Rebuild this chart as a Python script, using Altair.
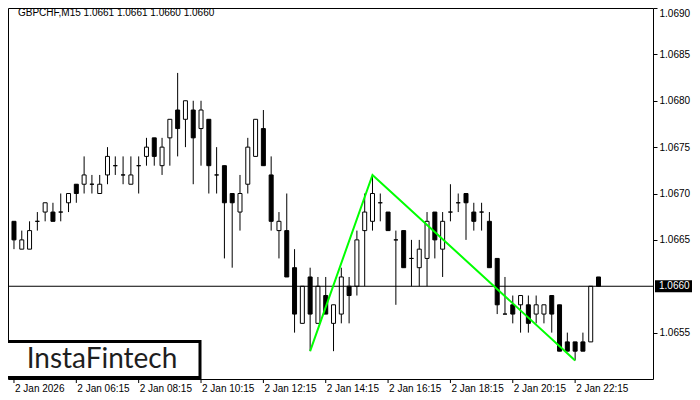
import altair as alt
import pandas as pd

# ---- data (GBPCHF M15, 15-minute bars) ----
opens = [1.0667, 1.0664, 1.0664, 1.0667, 1.0668, 1.0668, 1.0668, 1.0669, 1.0671, 1.0671,
         1.0671, 1.0670, 1.0672, 1.0673, 1.0672, 1.0671, 1.0673, 1.0674, 1.0676, 1.0673,
         1.0676, 1.0679, 1.0678, 1.0679, 1.0677, 1.0678, 1.0672, 1.0673, 1.0670, 1.0668,
         1.0671, 1.0674, 1.0677, 1.0672, 1.0666, 1.0666, 1.0662, 1.0656, 1.0661, 1.0656,
         1.0659, 1.0656, 1.0657, 1.0660, 1.0660, 1.0666, 1.0667, 1.0669, 1.0668, 1.0665,
         1.0666, 1.0663, 1.0662, 1.0663, 1.0668, 1.0664, 1.0668, 1.0669, 1.0670, 1.0668,
         1.0668, 1.0667, 1.0663, 1.0657, 1.0658, 1.0658, 1.0658, 1.0657, 1.0657, 1.0659,
         1.0658, 1.0654, 1.0654, 1.0654, 1.0654, 1.0661]
highs = [1.0667, 1.0666, 1.0667, 1.0668, 1.0669, 1.0669, 1.0670, 1.0670, 1.0671, 1.0674,
         1.0672, 1.0672, 1.0675, 1.0674, 1.0674, 1.0674, 1.0674, 1.0676, 1.0676, 1.0676,
         1.0678, 1.0683, 1.0680, 1.0680, 1.0680, 1.0678, 1.0675, 1.0673, 1.0670, 1.0672,
         1.0676, 1.0678, 1.0679, 1.0674, 1.0668, 1.0670, 1.0664, 1.0660, 1.0662, 1.0661,
         1.0661, 1.0658, 1.0662, 1.0661, 1.0666, 1.0670, 1.0672, 1.0670, 1.0668, 1.0666,
         1.0666, 1.0665, 1.0665, 1.0668, 1.0668, 1.0668, 1.0671, 1.0670, 1.0670, 1.0669,
         1.0669, 1.0668, 1.0663, 1.0661, 1.0659, 1.0659, 1.0659, 1.0659, 1.0658, 1.0659,
         1.0658, 1.0655, 1.0654, 1.0655, 1.0660, 1.0661]
lows = [1.0664, 1.0664, 1.0664, 1.0666, 1.0667, 1.0667, 1.0667, 1.0668, 1.0669, 1.0670,
        1.0670, 1.0670, 1.0671, 1.0672, 1.0671, 1.0671, 1.0670, 1.0673, 1.0673, 1.0672,
        1.0673, 1.0674, 1.0675, 1.0671, 1.0673, 1.0670, 1.0670, 1.0663, 1.0662, 1.0666,
        1.0670, 1.0674, 1.0673, 1.0666, 1.0663, 1.0661, 1.0655, 1.0656, 1.0653, 1.0656,
        1.0657, 1.0653, 1.0656, 1.0656, 1.0659, 1.0660, 1.0666, 1.0667, 1.0666, 1.0658,
        1.0662, 1.0660, 1.0660, 1.0660, 1.0663, 1.0661, 1.0667, 1.0668, 1.0665, 1.0666,
        1.0666, 1.0662, 1.0657, 1.0657, 1.0656, 1.0655, 1.0655, 1.0656, 1.0656, 1.0655,
        1.0653, 1.0653, 1.0652, 1.0653, 1.0654, 1.0660]
closes = [1.0665, 1.0665, 1.0666, 1.0667, 1.0669, 1.0667, 1.0668, 1.0670, 1.0670, 1.0672,
          1.0671, 1.0671, 1.0674, 1.0673, 1.0672, 1.0672, 1.0673, 1.0675, 1.0674, 1.0675,
          1.0678, 1.0677, 1.0680, 1.0676, 1.0679, 1.0673, 1.0672, 1.0669, 1.0669, 1.0670,
          1.0675, 1.0678, 1.0673, 1.0667, 1.0667, 1.0661, 1.0657, 1.0660, 1.0657, 1.0660,
          1.0657, 1.0658, 1.0661, 1.0659, 1.0665, 1.0668, 1.0670, 1.0669, 1.0666, 1.0665,
          1.0662, 1.0663, 1.0664, 1.0667, 1.0665, 1.0667, 1.0668, 1.0669, 1.0669, 1.0667,
          1.0668, 1.0662, 1.0658, 1.0657, 1.0657, 1.0659, 1.0656, 1.0658, 1.0658, 1.0657,
          1.0653, 1.0653, 1.0653, 1.0653, 1.0660, 1.0660]

time_tick_index = [0, 8, 16, 24, 32, 40, 48, 56, 64, 72]
time_tick_labels = ["2 Jan 2026", "2 Jan 06:15", "2 Jan 08:15", "2 Jan 10:15", "2 Jan 12:15",
                    "2 Jan 14:15", "2 Jan 16:15", "2 Jan 18:15", "2 Jan 20:15", "2 Jan 22:15"]
price_ticks = [1.0655, 1.0665, 1.0670, 1.0675, 1.0680, 1.0685, 1.0690]

pattern_index = [38, 46, 72]
pattern_price = [1.0653, 1.0672, 1.0652]

current_price = [1.0660]
title_text = ["GBPCHF,M15  1.0661 1.0661 1.0660 1.0660"]
logo_text = ["InstaFintech"]

# ---- tables ----
candles = pd.DataFrame({
    "idx": list(range(len(opens))),
    "open": opens, "high": highs, "low": lows, "close": closes,
})
candles["fill"] = ["black" if c < o else "white" for o, c in zip(opens, closes)]
ticks_df = pd.DataFrame({"idx": time_tick_index, "label": time_tick_labels})
pattern_df = pd.DataFrame({"idx": pattern_index, "price": pattern_price})
price_df = pd.DataFrame({"price": current_price, "label": ["%.4f" % p for p in current_price]})
title_df = pd.DataFrame({"t": title_text})
logo_df = pd.DataFrame({"t": logo_text})

W, H = 645, 371
FONT = "Liberation Sans"
xs = alt.Scale(domain=[-0.125, 81.35], nice=False, zero=False)
ys = alt.Scale(domain=[1.0650, 1.0690], nice=False, zero=False)
yaxis = alt.Axis(orient="right", values=price_ticks, format=".4f", tickSize=4,
                 tickColor="black", labelColor="black", labelFont=FONT, labelFontSize=10,
                 labelPadding=2, domain=False, grid=False, title="", labelFlush=True,
                 labelOverlap=False)
X = alt.X("idx:Q", scale=xs, axis=None)

base = alt.Chart(candles)

wicks = base.mark_rule(color="black", strokeWidth=1, clip=True).encode(
    x=X, y=alt.Y("low:Q", scale=ys, axis=yaxis), y2="high:Q")

bodies = base.mark_bar(size=4, stroke="black", strokeWidth=1, clip=True).encode(
    x=X, y=alt.Y("open:Q", scale=ys, axis=yaxis), y2="close:Q",
    fill=alt.Fill("fill:N", scale=None))

price_line = alt.Chart(price_df).mark_rule(color="black", strokeWidth=1).encode(
    y=alt.Y("price:Q", scale=ys, axis=yaxis))

pattern = alt.Chart(pattern_df).mark_line(color="#00ff00", strokeWidth=2, clip=True).encode(
    x=X, y=alt.Y("price:Q", scale=ys, axis=yaxis))

x_ticks = alt.Chart(ticks_df).mark_rule(color="black", strokeWidth=1).encode(
    x=X, y=alt.value(H), y2=alt.value(H + 4))
x_labels = alt.Chart(ticks_df).mark_text(align="left", baseline="middle", font=FONT,
                                        fontSize=10, color="black", dx=1).encode(
    x=X, y=alt.value(H + 9.5), text="label:N")

price_box = alt.Chart(price_df).mark_rect(color="black", yOffset=-6, y2Offset=6).encode(
    y=alt.Y("price:Q", scale=ys, axis=yaxis), y2="price:Q",
    x=alt.value(W + 2), x2=alt.value(W + 39))
price_text = alt.Chart(price_df).mark_text(align="left", baseline="middle", font=FONT,
                                          fontSize=10, color="white").encode(
    y=alt.Y("price:Q", scale=ys, axis=yaxis), x=alt.value(W + 6), text="label:N")

title = alt.Chart(title_df).mark_text(align="left", baseline="alphabetic", font=FONT,
                                     fontSize=10, color="black").encode(
    x=alt.value(10), y=alt.value(7.5), text="t:N")

logo_box = alt.Chart(logo_df).mark_rect(fill="white", stroke="black", strokeWidth=3).encode(
    x=alt.value(-4), x2=alt.value(192), y=alt.value(333.5), y2=alt.value(369.5))
logo = alt.Chart(logo_df).mark_text(align="center", baseline="middle", font="Lato",
                                    fontSize=28, color="#1e1e1e").encode(
    x=alt.value(94), y=alt.value(351.5), text="t:N")

chart = alt.layer(
    wicks, bodies, price_line, pattern, x_ticks, x_labels,
    price_box, price_text, title, logo_box, logo
).properties(
    width=W, height=H,
    autosize=alt.AutoSizeParams(type="none"),
    padding={"left": 0, "top": 0, "right": 39, "bottom": 13},
    background="white",
).configure_view(stroke="black", strokeWidth=1)

chart.save("out.html", embed_options={"renderer": "svg", "actions": False})
